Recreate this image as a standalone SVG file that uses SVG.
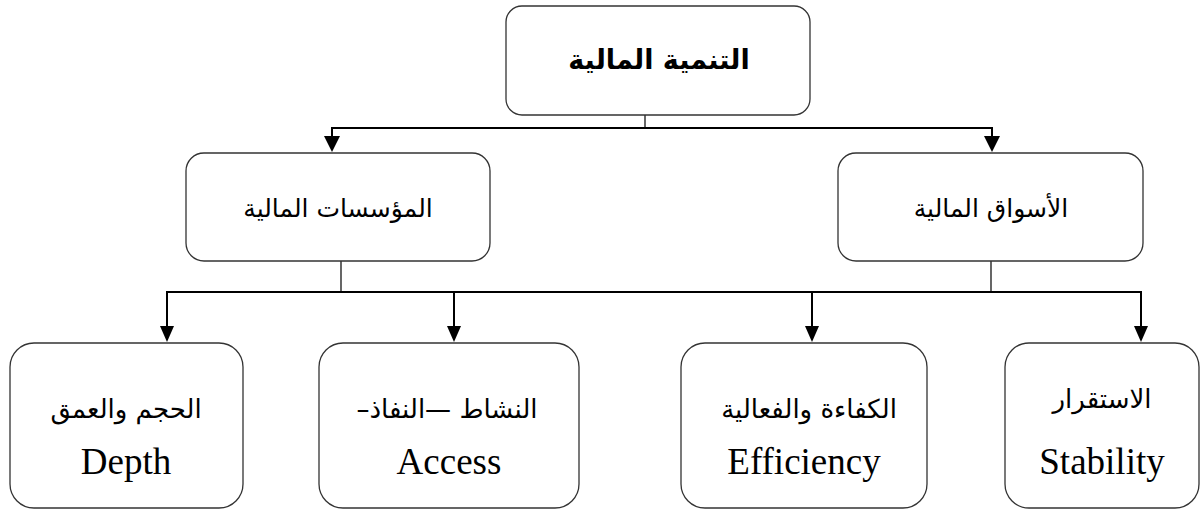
<svg xmlns="http://www.w3.org/2000/svg" width="1203" height="509" viewBox="0 0 1203 509">
  <style>
    .box { fill: #ffffff; stroke: #333333; stroke-width: 1.3; }
    .line { fill: none; stroke: #000000; stroke-width: 2; }
    .stub { fill: none; stroke: #000000; stroke-width: 1.2; }
    .ar { font-family: "DejaVu Sans", sans-serif; text-anchor: middle; fill: #000000; direction: rtl; unicode-bidi: embed; }
    .en { font-family: "Liberation Serif", serif; font-size: 37px; text-anchor: middle; fill: #000000; }
  </style>

  <g id="connectors">
    <!-- root to level 2 -->
    <line class="stub" x1="645" y1="115" x2="645" y2="128"/>
    <line class="line" x1="332" y1="128" x2="992" y2="128"/>
    <line class="line" x1="332" y1="127" x2="332" y2="136"/>
    <path d="M324,136 L340,136 L332,152 Z"/>
    <line class="line" x1="992" y1="127" x2="992" y2="136"/>
    <path d="M984,136 L1000,136 L992,152 Z"/>
    <!-- level 2 to leaves -->
    <line class="stub" x1="341" y1="253" x2="341" y2="292"/>
    <line class="stub" x1="991" y1="253" x2="991" y2="292"/>
    <line class="line" x1="167" y1="292" x2="1141" y2="292"/>
    <line class="line" x1="167" y1="291" x2="167" y2="326"/>
    <path d="M160,326 L174,326 L167,342 Z"/>
    <line class="line" x1="454" y1="291" x2="454" y2="326"/>
    <path d="M447,326 L461,326 L454,342 Z"/>
    <line class="line" x1="812" y1="291" x2="812" y2="326"/>
    <path d="M805,326 L819,326 L812,342 Z"/>
    <line class="line" x1="1141" y1="291" x2="1141" y2="326"/>
    <path d="M1134,326 L1148,326 L1141,342 Z"/>
  </g>

  <g id="root">
    <rect class="box" x="506" y="6" width="304" height="109" rx="16"/>
    <text class="ar" x="659" y="69" font-size="27" font-weight="bold">التنمية المالية</text>
  </g>

  <g id="institutions">
    <rect class="box" x="186" y="153" width="304" height="108" rx="18"/>
    <text class="ar" x="338" y="217" font-size="25">المؤسسات المالية</text>
  </g>

  <g id="markets">
    <rect class="box" x="838" y="153" width="305" height="108" rx="18"/>
    <text class="ar" x="991" y="217" font-size="25">الأسواق المالية</text>
  </g>

  <g id="depth">
    <rect class="box" x="10" y="343" width="233" height="165" rx="24"/>
    <text class="ar" x="126" y="418" font-size="26">الحجم والعمق</text>
    <text class="en" x="126" y="474">Depth</text>
  </g>

  <g id="access">
    <rect class="box" x="319" y="343" width="260" height="165" rx="24"/>
    <text class="ar" x="447" y="418" font-size="26">النشاط —النفاذ–</text>
    <text class="en" x="449" y="474">Access</text>
  </g>

  <g id="efficiency">
    <rect class="box" x="681" y="343" width="246" height="165" rx="24"/>
    <text class="ar" x="809" y="418" font-size="26">الكفاءة والفعالية</text>
    <text class="en" x="804" y="474">Efficiency</text>
  </g>

  <g id="stability">
    <rect class="box" x="1005" y="343" width="194" height="165" rx="24"/>
    <text class="ar" x="1102" y="408" font-size="26">الاستقرار</text>
    <text class="en" x="1102" y="474">Stability</text>
  </g>
</svg>
